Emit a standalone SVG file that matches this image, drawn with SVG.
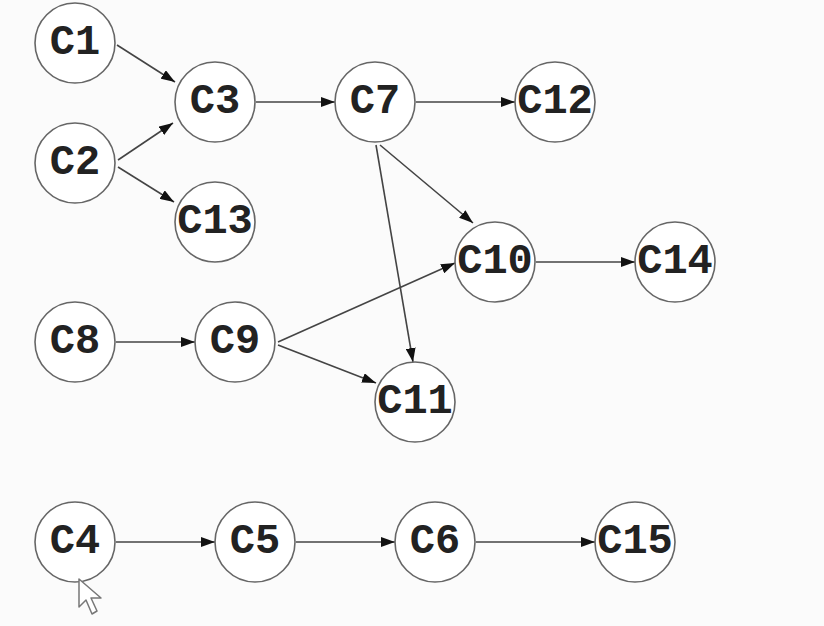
<svg xmlns="http://www.w3.org/2000/svg" width="824" height="626" viewBox="0 0 824 626">
  <defs>
    <marker id="arrow" markerUnits="userSpaceOnUse" markerWidth="14" markerHeight="10" refX="14" refY="5" orient="auto">
      <path d="M0,0 L14,5 L0,10 Z" fill="#111"/>
    </marker>
    <style>
      .node circle { fill: #fff; stroke: #666; stroke-width: 1.6; }
      .node text { font-family: "Liberation Mono", "DejaVu Sans Mono", monospace; font-weight: bold; font-size: 42px; fill: #222; text-anchor: middle; dominant-baseline: central; }
      #edges line { stroke: #444; stroke-width: 1.6; marker-end: url(#arrow); }
    </style>
  </defs>
  <rect width="824" height="626" fill="#fbfbfb"/>

  <g id="edges">
    <line x1="117" y1="45" x2="175" y2="82"/>
    <line x1="118" y1="160" x2="173" y2="123"/>
    <line x1="118" y1="167" x2="174" y2="202"/>
    <line x1="256" y1="102" x2="335" y2="102"/>
    <line x1="416" y1="102" x2="515" y2="102"/>
    <line x1="380" y1="145" x2="473" y2="223"/>
    <line x1="376" y1="145" x2="413" y2="362"/>
    <line x1="278" y1="342" x2="455" y2="263"/>
    <line x1="278" y1="345" x2="376" y2="383"/>
    <line x1="116" y1="342" x2="195" y2="342"/>
    <line x1="536" y1="262" x2="635" y2="262"/>
    <line x1="116" y1="542" x2="215" y2="542"/>
    <line x1="296" y1="542" x2="395" y2="542"/>
    <line x1="476" y1="542" x2="595" y2="542"/>
  </g>

  <g id="C1" class="node"><circle cx="75" cy="43" r="40"/><text x="75" y="43">C1</text></g>
  <g id="C2" class="node"><circle cx="75" cy="163" r="40"/><text x="75" y="163">C2</text></g>
  <g id="C3" class="node"><circle cx="215" cy="102" r="40"/><text x="215" y="102">C3</text></g>
  <g id="C13" class="node"><circle cx="215" cy="222" r="40"/><text x="215" y="222">C13</text></g>
  <g id="C7" class="node"><circle cx="375" cy="102" r="40"/><text x="375" y="102">C7</text></g>
  <g id="C12" class="node"><circle cx="555" cy="102" r="40"/><text x="555" y="102">C12</text></g>
  <g id="C10" class="node"><circle cx="495" cy="262" r="40"/><text x="495" y="262">C10</text></g>
  <g id="C14" class="node"><circle cx="675" cy="262" r="40"/><text x="675" y="262">C14</text></g>
  <g id="C8" class="node"><circle cx="75" cy="342" r="40"/><text x="75" y="342">C8</text></g>
  <g id="C9" class="node"><circle cx="235" cy="342" r="40"/><text x="235" y="342">C9</text></g>
  <g id="C11" class="node"><circle cx="415" cy="402" r="40"/><text x="415" y="402">C11</text></g>
  <g id="C4" class="node"><circle cx="75" cy="542" r="40"/><text x="75" y="542">C4</text></g>
  <g id="C5" class="node"><circle cx="255" cy="542" r="40"/><text x="255" y="542">C5</text></g>
  <g id="C6" class="node"><circle cx="435" cy="542" r="40"/><text x="435" y="542">C6</text></g>
  <g id="C15" class="node"><circle cx="635" cy="542" r="40"/><text x="635" y="542">C15</text></g>

  <!-- mouse pointer -->
  <path d="M79,579 L79,607 L86,600 L92,614 L97,611 L91,598 L101,598 Z" fill="#fff" stroke="#777" stroke-width="1.5" stroke-linejoin="round"/>
</svg>
